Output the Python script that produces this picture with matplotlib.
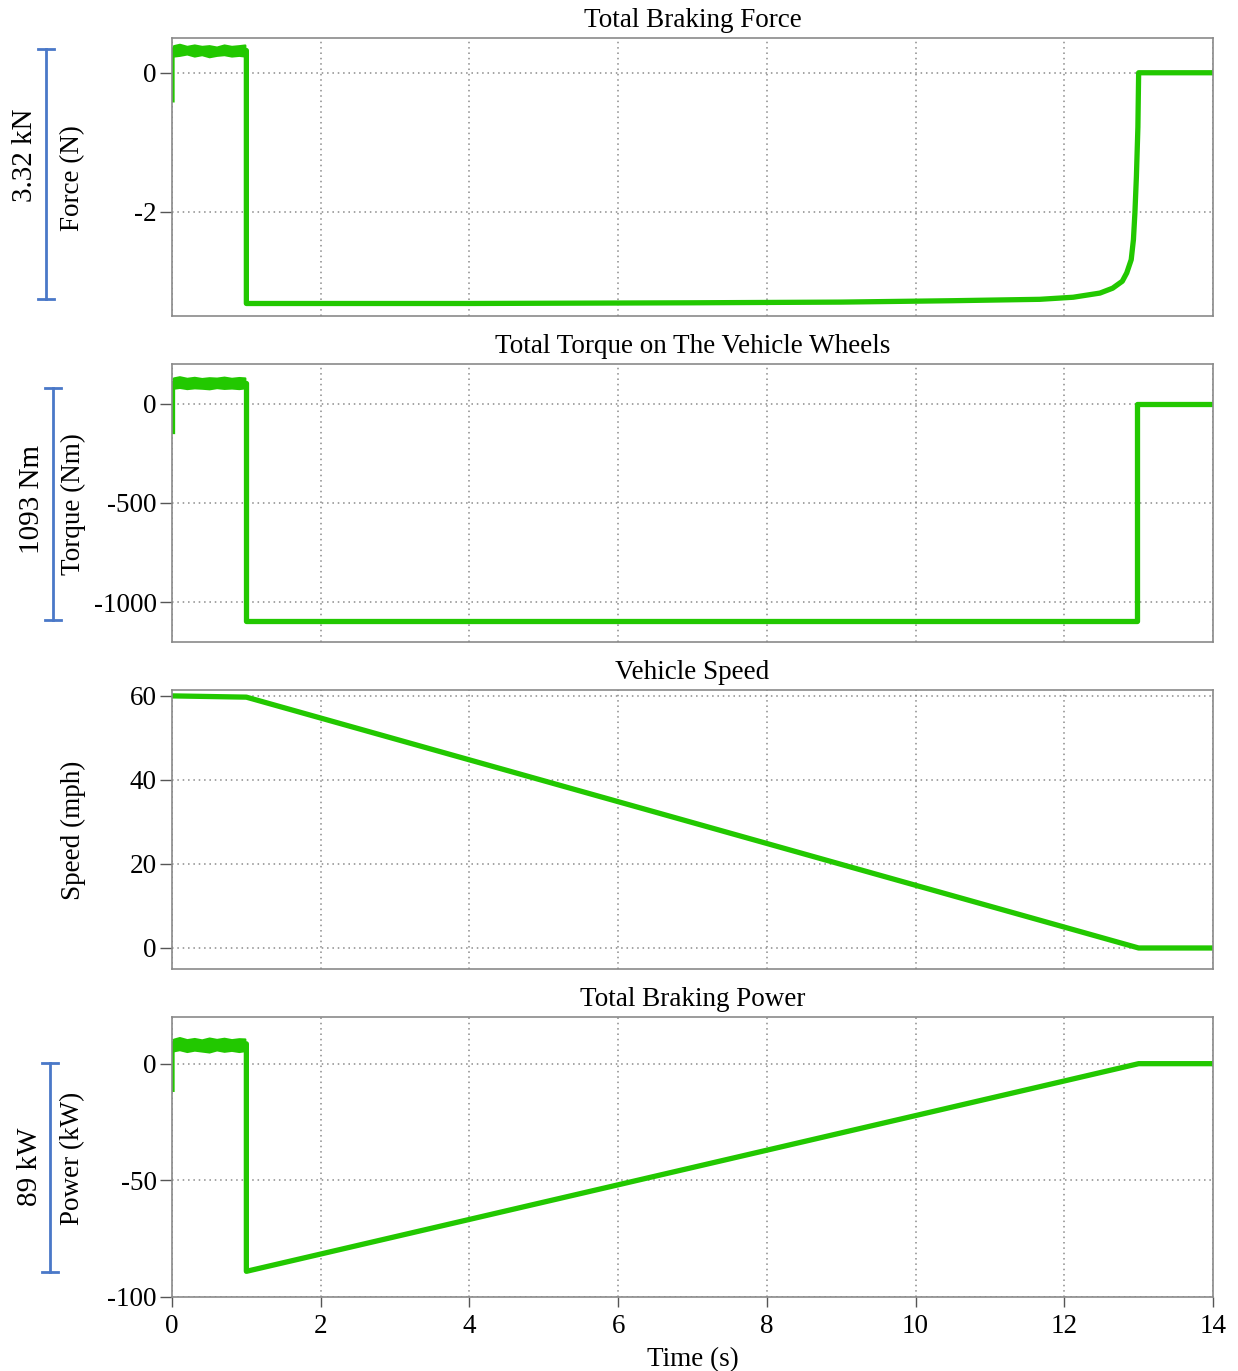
import matplotlib
matplotlib.use("Agg")
import matplotlib.pyplot as plt
from matplotlib.lines import Line2D

plt.rcParams['font.family'] = ['Liberation Serif', 'DejaVu Serif']
plt.rcParams['font.size'] = 19.5
plt.rcParams['axes.unicode_minus'] = False

GREEN = '#22c800'
BLUE = '#4a78c8'

# --- braking force (kN) ---
force_t = [0.0, 0.0, 1.0, 1.0, 4.0, 7.0, 9.0, 10.5, 11.67, 12.12, 12.48, 12.65,
           12.78, 12.84, 12.90, 12.93, 12.95, 12.97, 12.99, 13.0, 14.0]
force_v = [-0.39, 0.32, 0.32, -3.32, -3.32, -3.31, -3.30, -3.28, -3.26, -3.23,
           -3.17, -3.10, -3.00, -2.88, -2.69, -2.40, -2.01, -1.49, -0.78, 0.0, 0.0]
force_band_t = [0.02, 0.1, 0.2, 0.3, 0.4, 0.5, 0.6, 0.7, 0.8, 0.9, 0.98]
force_hi = [0.39, 0.41, 0.38, 0.40, 0.38, 0.39, 0.37, 0.40, 0.38, 0.39, 0.40]
force_lo = [0.24, 0.25, 0.27, 0.24, 0.26, 0.23, 0.25, 0.26, 0.24, 0.25, 0.24]

# --- wheel torque (Nm) ---
torque_t = [0.0, 0.0, 1.0, 1.0, 12.98, 12.98, 14.0]
torque_v = [-135, 105, 105, -1093, -1093, 0, 0]
torque_band_t = [0.02, 0.1, 0.2, 0.3, 0.4, 0.5, 0.6, 0.7, 0.8, 0.9, 0.98]
torque_hi = [130, 136, 128, 133, 127, 131, 129, 134, 128, 132, 130]
torque_lo = [78, 82, 76, 80, 78, 75, 81, 77, 79, 76, 80]

# --- vehicle speed (mph) ---
speed_t = [0.0, 1.0, 13.0, 14.0]
speed_v = [60.0, 59.7, 0.0, 0.0]

# --- braking power (kW) ---
power_t = [0.0, 0.0, 1.0, 1.0, 13.0, 14.0]
power_v = [-11, 8.5, 8.5, -89, 0, 0]
power_band_t = [0.02, 0.1, 0.2, 0.3, 0.4, 0.5, 0.6, 0.7, 0.8, 0.9, 0.98]
power_hi = [10.5, 11.2, 10.3, 10.8, 10.2, 11.0, 10.4, 10.9, 10.3, 10.7, 10.6]
power_lo = [5.5, 6.0, 5.2, 5.8, 5.4, 5.0, 5.9, 5.3, 5.7, 5.2, 5.6]

titles = ['Total Braking Force', 'Total Torque on The Vehicle Wheels',
          'Vehicle Speed', 'Total Braking Power']
ylabels = ['Force (N)', 'Torque (Nm)', 'Speed (mph)', 'Power (kW)']
ylims = [(-3.5, 0.5), (-1200, 200), (-5, 61.4), (-100, 20)]
yticks = [[0, -2], [0, -500, -1000], [0, 20, 40, 60], [0, -50, -100]]

W, H = 1238, 1371
fig = plt.figure(figsize=(W / 100, H / 100), dpi=100)

# panel top/bottom in pixels
rows = [(38, 316), (364, 642), (690, 969), (1017, 1297)]
left, right = 172, 1213

series = [(force_t, force_v, force_band_t, force_hi, force_lo),
          (torque_t, torque_v, torque_band_t, torque_hi, torque_lo),
          (speed_t, speed_v, None, None, None),
          (power_t, power_v, power_band_t, power_hi, power_lo)]

for i, (top, bot) in enumerate(rows):
    ax = fig.add_axes([left / W, 1 - bot / H, (right - left) / W, (bot - top) / H])
    t, v, bt, hi, lo = series[i]
    ax.plot(t, v, color=GREEN, lw=3.8, solid_joinstyle='round')
    if bt is not None:
        ax.fill_between(bt, lo, hi, color=GREEN, lw=1.5, edgecolor=GREEN)
    ax.set_xlim(0, 14)
    ax.set_ylim(*ylims[i])
    ax.set_yticks(yticks[i])
    ax.set_xticks(range(0, 15, 2))
    ax.grid(True, color='#8a8a8a', linestyle=(0, (1, 2.5)), linewidth=1.1)
    for s in ax.spines.values():
        s.set_color('#8a8a8a')
        s.set_linewidth(1.2)
    ax.tick_params(axis='y', direction='out', length=9, width=1, color='#555555',
                   pad=2, labelsize=19.5)
    if i < 3:
        ax.tick_params(axis='x', length=0, labelbottom=False)
    else:
        ax.tick_params(axis='x', direction='out', length=7, width=1,
                       color='#555555', pad=5, labelsize=19.5)
        ax.set_xlabel('Time (s)', fontsize=19.5, labelpad=6)
    ax.set_title(titles[i], fontsize=19.5, pad=8)
    fig.text(73 / W, 1 - ((top + bot) / 2 + 1) / H, ylabels[i], rotation=90,
             ha='center', va='center', fontsize=19.5)

# magnitude brackets beside the panels
brackets = [(46, 49, 299, '3.32 kN', 25, 155),
            (53, 388, 620, '1093 Nm', 32, 500),
            (50, 1063, 1272, '89 kW', 30, 1167)]
for x, y0, y1, txt, tx, ty in brackets:
    fig.add_artist(Line2D([x / W, x / W], [1 - y0 / H, 1 - y1 / H], color=BLUE, lw=2))
    for y in (y0, y1):
        fig.add_artist(Line2D([(x - 8) / W, (x + 8) / W], [1 - y / H, 1 - y / H],
                              color=BLUE, lw=2))
    fig.text(tx / W, 1 - ty / H, txt, rotation=90, ha='center', va='center', fontsize=21)

fig.savefig('out.png', dpi=100)
